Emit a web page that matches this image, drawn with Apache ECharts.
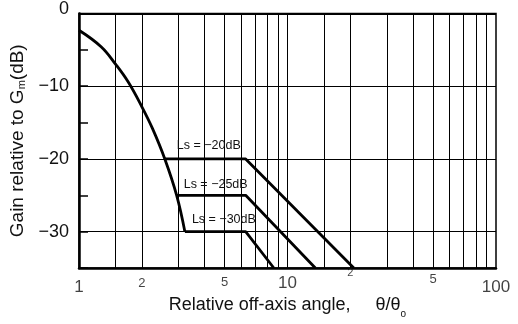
<!DOCTYPE html>
<html><head><meta charset="utf-8">
<script src="https://cdn.jsdelivr.net/npm/echarts@6/dist/echarts.min.js"></script>
<style>html,body{margin:0;padding:0;background:#fff}#c{width:518px;height:324px}</style>
</head><body><div id="c"></div>
<script>
// ---- data ----
const beamX = [1, 1.28, 1.5, 1.72, 2, 2.25, 2.58, 2.94, 3.22];
const beamY = [-2.3, -4.6, -7.0, -9.4, -12.8, -15.8, -20, -25, -30];
const ls20X = [2.58, 6.3, 20.8];
const ls20Y = [-20, -20, -35];
const ls25X = [2.94, 6.3, 13.6];
const ls25Y = [-25, -25, -35];
const ls30X = [3.22, 6.3, 8.6];
const ls30Y = [-30, -30, -35];
const lsNames = ['Ls = \u221220dB', 'Ls = \u221225dB', 'Ls = \u221230dB'];
const xTickValues = [1, 2, 5, 10, 20, 50, 100];
const xTickLabels = ['1', '2', '5', '10', '2', '5', '100'];
const yTickValues = [0, -10, -20, -30];
const yTickLabels = ['0', '\u221210', '\u221220', '\u221230'];
const xGridValues = [1.5, 2, 3, 4, 5, 6, 7, 8, 9, 10, 15, 20, 30, 40, 50, 60, 70, 80, 90];
const yGridValues = [-10, -20, -30];
const yMin = -35, yMax = 0;

// ---- styles ----
const FONT = 'Liberation Sans, Arial, sans-serif';
// per tick label: [font size, vertical offset below the axis line]
const xLabelStyle = [[17, 19.5], [13, 15], [13, 14], [17, 15], [11, 5], [13, 11.5], [17, 19.5]];
const lsLabelOffsets = [[44, -13], [39, -11], [39, -12]];

const pairs = (xs, ys) => xs.map((x, i) => [x, ys[i]]);
const lineStyle = {color: '#000', width: 2.8};

function lsSeries(xs, ys, idx) {
  return {
    type: 'line', data: pairs(xs, ys), symbol: 'none', lineStyle,
    markPoint: {
      symbol: 'circle', symbolSize: 0, silent: true,
      data: [{coord: [xs[0], ys[0]], value: lsNames[idx]}],
      label: {show: true, position: 'inside', offset: lsLabelOffsets[idx],
        formatter: lsNames[idx], fontSize: 12.5, fontFamily: FONT, color: '#111'}
    }
  };
}

const chart = echarts.init(document.getElementById('c'), null, {renderer: 'canvas'});
chart.setOption({
  animation: false,
  backgroundColor: '#fff',
  grid: {left: 79, right: 22, top: 13, bottom: 55, show: true, borderColor: '#000', borderWidth: 1.5},
  xAxis: {
    type: 'log', logBase: 10, min: 1, max: 100,
    axisLine: {show: true, onZero: false, lineStyle: {color: '#000', width: 2.5}},
    axisTick: {show: false},
    splitLine: {show: false},
    minorTick: {show: false}, minorSplitLine: {show: false},
    axisLabel: {show: false},
    name: 'Relative off-axis angle,     \u03b8/\u03b8{sub|o}',
    nameLocation: 'middle', nameGap: 24,
    nameTextStyle: {fontSize: 18, fontFamily: FONT, color: '#111',
      rich: {sub: {fontSize: 10, fontFamily: FONT, color: '#111', padding: [17, 0, 0, 0]}}}
  },
  yAxis: {
    type: 'value', min: yMin, max: yMax, interval: 5,
    axisLine: {show: true, onZero: false, lineStyle: {color: '#000', width: 2.5}},
    axisTick: {show: true, inside: true, length: 9, lineStyle: {color: '#000', width: 1.5}},
    splitLine: {show: false},
    axisLabel: {
      margin: 10, fontSize: 18, fontFamily: FONT, color: '#111',
      formatter: v => {
        const i = yTickValues.indexOf(v);
        if (i < 0) return '';
        return i === 0 ? '{z|' + yTickLabels[i] + '}' : yTickLabels[i];
      },
      rich: {z: {fontSize: 18, fontFamily: FONT, color: '#111', padding: [0, 0, 9, 0]}}
    },
    name: 'Gain relative to G{sub|m}(dB)',
    nameLocation: 'middle', nameGap: 42,
    nameTextStyle: {fontSize: 19, fontFamily: FONT, color: '#111',
      rich: {sub: {fontSize: 11, fontFamily: FONT, color: '#111', padding: [7, 0, 0, 0]}}}
  },
  series: [
    {
      type: 'line', data: pairs(beamX, beamY), symbol: 'none', smooth: 0.4, lineStyle,
      markLine: {
        silent: true, symbol: ['none', 'none'], label: {show: false},
        lineStyle: {color: '#000', width: 1, type: 'solid'},
        data: xGridValues.map(v => ({xAxis: v})).concat(yGridValues.map(v => ({yAxis: v})))
          .concat([{yAxis: 0, lineStyle: {width: 2.2}}])
      },
      z: 3
    },
    lsSeries(ls20X, ls20Y, 0),
    lsSeries(ls25X, ls25Y, 1),
    lsSeries(ls30X, ls30Y, 2),
    {
      // x tick labels placed through the log axis
      type: 'scatter', symbolSize: 0, silent: true, clip: false,
      data: xTickValues.map((v, i) => ({
        value: [v, yMin],
        label: {show: true, position: 'inside', formatter: xTickLabels[i],
          offset: [0, xLabelStyle[i][1]], fontSize: xLabelStyle[i][0],
          fontFamily: FONT, color: '#111'}
      }))
    }
  ]
});
</script>
</body></html>
